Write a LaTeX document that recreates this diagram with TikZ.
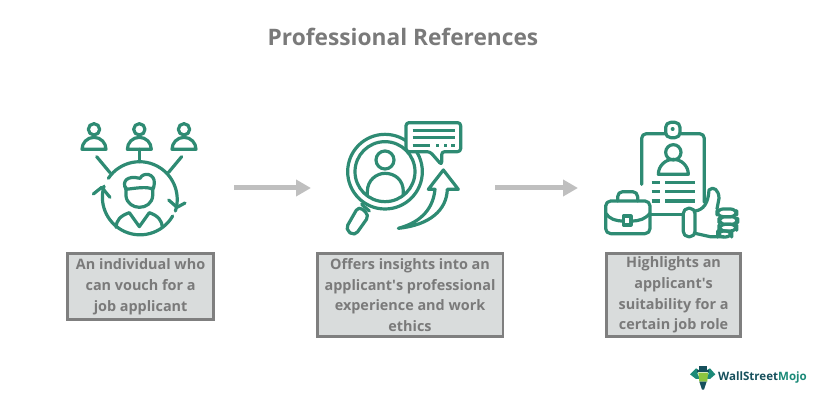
\documentclass[tikz,border=0pt]{standalone}
\usepackage{fontspec}
\setmainfont{Open Sans}
\usetikzlibrary{arrows.meta}
\definecolor{teal1}{HTML}{2E8B73}
\definecolor{greytxt}{HTML}{7A7A7A}
\definecolor{boxedge}{HTML}{7F7F7F}
\definecolor{boxfill}{HTML}{D9DCDC}
\definecolor{arrowgrey}{HTML}{BFBFBF}
\definecolor{logodark}{HTML}{16505C}
\definecolor{logoteal}{HTML}{1B8A78}
\definecolor{logogreen}{HTML}{8CC63F}
\tikzset{
  infobox/.style={draw=boxedge,line width=2.6pt,fill=boxfill,text=greytxt,font=\fontsize{14.4}{20.7}\selectfont\bfseries,align=center,anchor=north west,inner sep=0pt},
  flow/.style={draw=arrowgrey,line width=5pt,-{Triangle[length=15pt,width=16pt]}},
  ico/.style={draw=teal1,line width=3.2pt,line cap=round,line join=round},
  zoomA/.style={shift={(#1)},scale=1/3},
}
\begin{document}
\begin{tikzpicture}[x=1pt,y=1pt,yscale=-1]
\useasboundingbox (0,0) rectangle (831,406);
\node (title) at (403,37) {\fontsize{22.7}{28}\selectfont\bfseries\textcolor{greytxt}{Professional References}};

% text boxes
\node[infobox,minimum width=146pt,minimum height=66pt] (b1) at (66.3,252.3) {An individual who\\can vouch for a\\job applicant};
\node[infobox,minimum width=185.5pt,minimum height=83.5pt] (b2) at (316,252) {Offers insights into an\\applicant\textquotesingle s professional\\experience and work\\ethics};
\node[infobox,minimum width=134pt,minimum height=83.5pt] (b3) at (605.3,252) {Highlights an\\applicant\textquotesingle s\\suitability for a\\certain job role};

% flow arrows
\coordinate (a1s) at (234,188); \coordinate (a1e) at (311,188);
\coordinate (a2s) at (495,188); \coordinate (a2e) at (578,188);
\draw[flow] (a1s) -- (a1e);
\draw[flow] (a2s) -- (a2e);

% people around a circle
\begin{scope}[zoomA={60,110},ico]
  \foreach \cx in {102,238,372}{
    \draw (\cx,58) circle (17);
    \draw (\cx-36,118) -- (\cx+36,118) arc[start angle=0,end angle=-180,radius=36] -- cycle;
  }
  \draw (238,118) -- (238,155);
  \draw (110,140) -- (150,188);
  \draw (365,140) -- (325,188);
  \draw (145,205) arc[start angle=214,end angle=378,radius=113];
  \draw (338,318) arc[start angle=30,end angle=197,radius=113];
  \draw (326,270) -- (351,292) -- (375,279);
  \draw (100,252) -- (125,232) -- (150,262);
  % central figure
  \draw (198,232) -- (198,258) .. controls (200,280) and (220,292) .. (238,292) .. controls (258,292) and (276,280) .. (278,258) -- (278,232);
  \draw (198,238) .. controls (185,215) and (200,195) .. (240,205) .. controls (250,185) and (285,190) .. (283,220) .. controls (283,230) and (280,235) .. (278,238) .. controls (262,228) and (225,235) .. (198,238);
  \draw (168,352) .. controls (170,330) and (180,318) .. (208,308) -- (238,350) -- (268,308) .. controls (295,318) and (305,330) .. (307,352);
\end{scope}

% magnifier with speech bubble
\begin{scope}[zoomA={330,110},ico]
  \draw (165,185) circle (112);
  \draw (165,185) circle (90);
  \draw (165,150) circle (27);
  \draw (112,255) -- (112,245) .. controls (112,210) and (140,190) .. (165,190) .. controls (195,190) and (220,210) .. (220,245) -- (220,255);
  \draw (95,283) -- (118,303);
  \draw[rounded corners=5pt] (86,288) -- (118,316) -- (74,378) -- (46,358) -- cycle;
  \draw[fill=white,rounded corners=3pt] (228,38) -- (392,38) -- (392,125) -- (335,125) -- (335,165) -- (300,125) -- (228,125) -- cycle;
  \draw[line width=3.4pt,line cap=butt] (248,62) -- (375,62);
  \draw[line width=3.4pt,line cap=butt] (248,82) -- (375,82);
  \draw[line width=3.4pt,line cap=butt] (248,107) -- (300,107);
  \draw[line width=3.4pt,line cap=butt] (318,107) -- (328,107);
  \draw[line width=3.4pt,line cap=butt] (342,107) -- (352,107);
  \draw[line width=3.4pt,line cap=butt] (364,107) -- (374,107);
  \draw (340,180) -- (385,238) -- (352,238) .. controls (350,300) and (300,345) .. (205,355) .. controls (280,335) and (310,290) .. (315,238) -- (295,238) -- cycle;
\end{scope}

% ID card, briefcase and thumb
\begin{scope}[zoomA={595,115},ico]
  \draw (140,208) -- (140,70) arc[start angle=180,end angle=270,radius=14] -- (212,56);
  \draw (255,56) -- (314,56) arc[start angle=-90,end angle=0,radius=14] -- (328,262);
  \draw (165,298) -- (265,298);
  \draw[rounded corners=5pt] (212,22) rectangle (255,68);
  \fill[teal1] (233,42) circle (6);
  \draw (235,112) circle (23);
  \draw (190,178) -- (280,178) arc[start angle=0,end angle=-180,radius=45] -- cycle;
  \foreach \ly in {202,230,258}{
    \draw[line cap=butt] (170,\ly) -- (195,\ly);
    \draw[line cap=butt] (210,\ly) -- (300,\ly);
  }
  % briefcase
  \draw[rounded corners=5pt] (32,258) rectangle (165,356);
  \draw (32,295) .. controls (45,312) and (60,318) .. (85,318);
  \draw (108,318) .. controls (135,318) and (150,312) .. (165,295);
  \draw (85,303) rectangle (108,330);
  \draw[rounded corners=5pt] (68,258) -- (68,230) -- (128,230) -- (128,258);
  % thumbs up
  \draw[rounded corners=5pt] (265,280) rectangle (300,365);
  \draw (300,288) .. controls (325,285) and (340,265) .. (342,225) .. controls (355,212) and (372,225) .. (372,250) -- (366,282);
  \draw (300,355) -- (345,365) -- (385,365);
  \draw[rounded corners=6pt] (366,282) rectangle (425,305);
  \draw[rounded corners=6pt] (372,305) rectangle (428,328);
  \draw[rounded corners=6pt] (372,328) rectangle (425,348);
  \draw[rounded corners=6pt] (368,348) rectangle (410,366);
\end{scope}

% logo
\begin{scope}[zoomA={680,355}]
  \fill[logoteal] (30,58) -- (48,40) -- (58,46) -- (52,56) -- (60,72) -- (48,72) -- cycle;
  \fill[logoteal] (106,58) -- (90,40) -- (80,46) -- (86,56) -- (78,72) -- (90,72) -- cycle;
  \fill[logodark] (58,33) rectangle (80,47);
  \fill[logodark] (50,46) rectangle (88,52);
  \fill[logogreen] (55,53) -- (84,53) -- (82,80) -- (58,80) -- cycle;
  \fill[logodark] (58,80) -- (80,80) -- (72,104) -- (66,104) -- cycle;
\end{scope}
\node[inner sep=0pt] (wsm) at (762.5,377) {\fontsize{11.55}{14}\selectfont\bfseries\textcolor{logodark}{WallStreet}\textcolor{logoteal}{Mojo}};
\end{tikzpicture}
\end{document}
